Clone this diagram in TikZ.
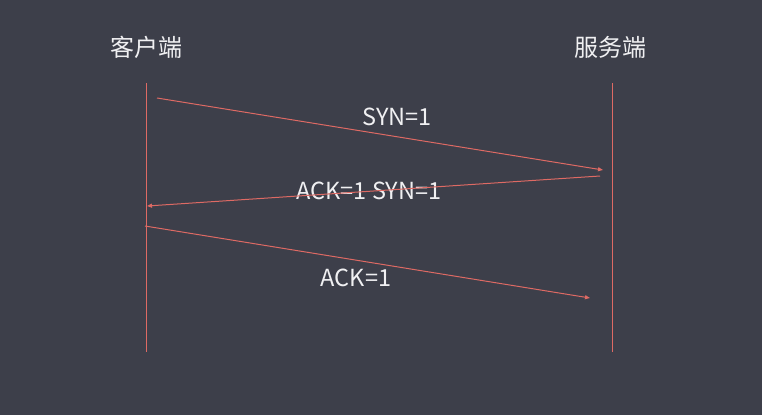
\documentclass[tikz,border=0pt]{standalone}
\usepackage{fontspec}
\setmainfont{Noto Sans CJK SC}
\usepackage{tikz}
\usetikzlibrary{arrows.meta,positioning}
\definecolor{bgdark}{RGB}{61,63,74}
\definecolor{msgred}{RGB}{222,106,100}
\definecolor{txtwhite}{RGB}{240,240,242}

\begin{document}
\begin{tikzpicture}[x=1pt, y=-1pt,
  party/.style={font=\fontsize{24}{28}\selectfont, text=txtwhite, inner sep=0pt},
  label/.style={font=\fontsize{23.5}{27}\selectfont, text=txtwhite, inner sep=0pt},
  lifeline/.style={draw=msgred, line width=1pt},
  msg/.style={draw=msgred, line width=1pt, -{Triangle[length=5pt,width=4pt]}}
]

% Background
\fill[bgdark] (0,0) rectangle (762,415);
\useasboundingbox (0,0) rectangle (762,415);

% Parties
\node[party] (client) at (146,47) {客户端};
\node[party] (server) at (610,47) {服务端};

% Lifelines
\coordinate (c top) at (146,83);
\coordinate (c bot) at (146,352);
\coordinate (s top) at (612,83);
\coordinate (s bot) at (612,352);
\draw[lifeline] (c top) -- (c bot);
\draw[lifeline] (s top) -- (s bot);

% Labels
\node[label] (syn) at (397,117) {SYN=1};
\node[label] (synack) at (369,191) {ACK=1 SYN=1};
\node[label] (ack) at (356,278) {ACK=1};

% Messages
\coordinate (m1 start) at (157,98);
\coordinate (m1 end) at (603,170);
\coordinate (m2 start) at (600,176);
\coordinate (m2 end) at (147,206);
\coordinate (m3 start) at (145,226);
\coordinate (m3 end) at (590,298);
\draw[msg] (m1 start) -- (m1 end);
\draw[msg] (m2 start) -- (m2 end);
\draw[msg] (m3 start) -- (m3 end);

\end{tikzpicture}
\end{document}
